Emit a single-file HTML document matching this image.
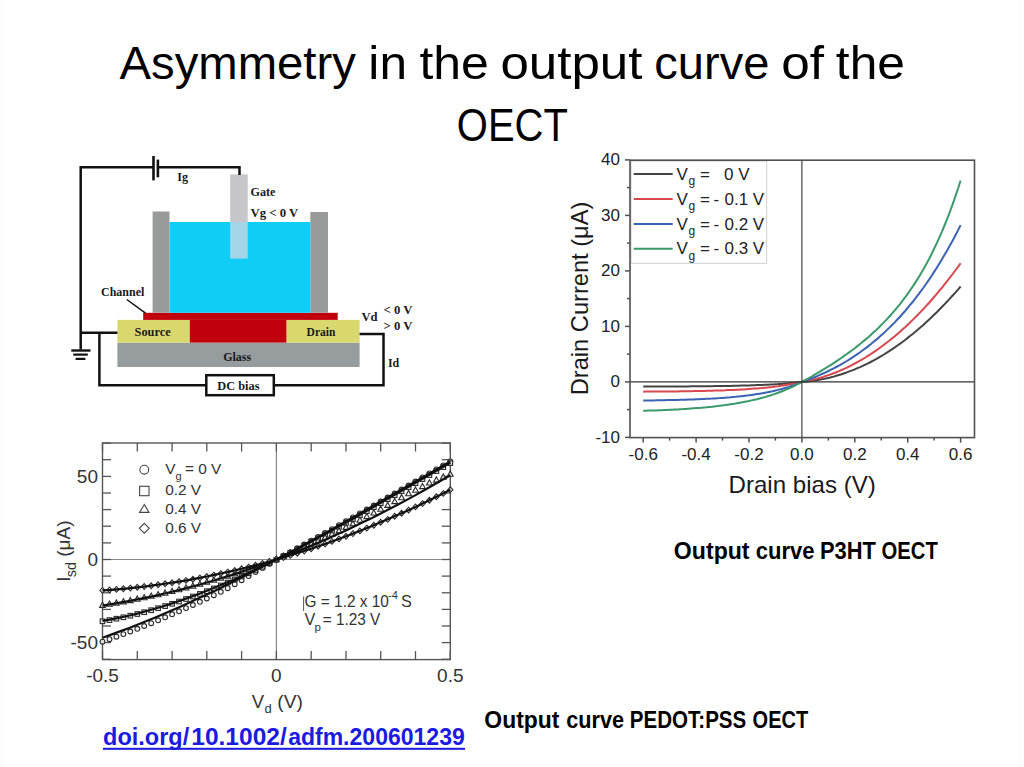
<!DOCTYPE html>
<html><head><meta charset="utf-8"><style>
html,body{margin:0;padding:0;background:#fff;}
body{width:1024px;height:767px;overflow:hidden;position:relative;}
svg{position:absolute;left:0;top:0;}
text{font-family:"Liberation Sans",sans-serif;}
</style></head><body>
<svg width="1024" height="767" viewBox="0 0 1024 767">
<text x="119.51" y="79.1" font-size="46.5" textLength="236.38" lengthAdjust="spacingAndGlyphs" fill="#000">Asymmetry</text>
<text x="368.38" y="79.1" font-size="46.5" textLength="38.59" lengthAdjust="spacingAndGlyphs" fill="#000">in</text>
<text x="419.44" y="79.1" font-size="46.5" textLength="69.37" lengthAdjust="spacingAndGlyphs" fill="#000">the</text>
<text x="500.45" y="79.1" font-size="46.5" textLength="142.02" lengthAdjust="spacingAndGlyphs" fill="#000">output</text>
<text x="654.30" y="79.1" font-size="46.5" textLength="115.09" lengthAdjust="spacingAndGlyphs" fill="#000">curve</text>
<text x="781.15" y="79.1" font-size="46.5" textLength="42.78" lengthAdjust="spacingAndGlyphs" fill="#000">of</text>
<text x="835.85" y="79.1" font-size="46.5" textLength="69.06" lengthAdjust="spacingAndGlyphs" fill="#000">the</text>
<text x="456.86" y="140.5" font-size="46.5" textLength="110.96" lengthAdjust="spacingAndGlyphs" fill="#000">OECT</text>
<rect x="117.4" y="342.6" width="242.2" height="24.4" fill="#979c9e"/>
<rect x="117.4" y="319.9" width="72.4" height="22.7" fill="#d9d86e"/>
<rect x="286.4" y="319.9" width="73.2" height="22.7" fill="#d9d86e"/>
<rect x="143.2" y="312.8" width="194.5" height="7.1" fill="#c0000c"/>
<rect x="189.8" y="319.9" width="96.6" height="22.7" fill="#c0000c"/>
<rect x="152.6" y="211.5" width="16.9" height="101.3" fill="#999a9a"/>
<rect x="310.3" y="212" width="17.7" height="100.8" fill="#999a9a"/>
<rect x="169.5" y="222" width="140.8" height="90.8" fill="#10cdf6"/>
<rect x="230.2" y="174.4" width="17.5" height="47.6" fill="#c6c6ca"/>
<rect x="230.2" y="222" width="17.5" height="36.6" fill="#a3d5e6"/>
<path d="M153.5,167.2H80.7V349.5" stroke="#111" stroke-width="2.5" fill="none"/>
<path d="M157.9,167.2H239.5V175" stroke="#111" stroke-width="2.5" fill="none"/>
<line x1="153.5" y1="156" x2="153.5" y2="180.4" stroke="#111" stroke-width="2.6"/>
<line x1="157.9" y1="159.6" x2="157.9" y2="177.3" stroke="#111" stroke-width="2.6"/>
<path d="M80.7,332.8H117.4" stroke="#111" stroke-width="2.5" fill="none"/>
<path d="M99.4,332.8V385.2H206" stroke="#111" stroke-width="2.5" fill="none"/>
<path d="M274.5,385.2H383.5V334H359.6" stroke="#111" stroke-width="2.5" fill="none"/>
<rect x="206.3" y="375.2" width="67.5" height="20" stroke="#111" stroke-width="2.5" fill="none"/>
<line x1="71.3" y1="350.5" x2="90.5" y2="350.5" stroke="#111" stroke-width="2.4"/>
<line x1="73.3" y1="354.6" x2="87.8" y2="354.6" stroke="#111" stroke-width="2.2"/>
<line x1="75.6" y1="358.9" x2="85.4" y2="358.9" stroke="#111" stroke-width="2.2"/>
<line x1="126.8" y1="299.5" x2="145.5" y2="313.2" stroke="#111" stroke-width="1.5"/>
<text x="177.2" y="181" style="font-family:&quot;Liberation Serif&quot;,serif;font-weight:bold" font-size="12.5" fill="#1a1a1a" textLength="10.8" lengthAdjust="spacingAndGlyphs">Ig</text>
<text x="250.6" y="195.7" style="font-family:&quot;Liberation Serif&quot;,serif;font-weight:bold" font-size="12.5" fill="#1a1a1a" textLength="24.9" lengthAdjust="spacingAndGlyphs">Gate</text>
<text x="250.6" y="217.2" style="font-family:&quot;Liberation Serif&quot;,serif;font-weight:bold" font-size="12.5" fill="#1a1a1a" textLength="47.7" lengthAdjust="spacingAndGlyphs">Vg &lt; 0 V</text>
<text x="101" y="296.4" style="font-family:&quot;Liberation Serif&quot;,serif;font-weight:bold" font-size="12.5" fill="#1a1a1a" textLength="43.3" lengthAdjust="spacingAndGlyphs">Channel</text>
<text x="134.6" y="336" style="font-family:&quot;Liberation Serif&quot;,serif;font-weight:bold" font-size="12.5" fill="#1a1a1a" textLength="36.0" lengthAdjust="spacingAndGlyphs">Source</text>
<text x="306.6" y="336.1" style="font-family:&quot;Liberation Serif&quot;,serif;font-weight:bold" font-size="12.5" fill="#1a1a1a" textLength="28.8" lengthAdjust="spacingAndGlyphs">Drain</text>
<text x="223.2" y="361.4" style="font-family:&quot;Liberation Serif&quot;,serif;font-weight:bold" font-size="12.5" fill="#1a1a1a" textLength="28.0" lengthAdjust="spacingAndGlyphs">Glass</text>
<text x="217.3" y="389.6" style="font-family:&quot;Liberation Serif&quot;,serif;font-weight:bold" font-size="12.5" fill="#1a1a1a" textLength="42.2" lengthAdjust="spacingAndGlyphs">DC bias</text>
<text x="361.5" y="320.8" style="font-family:&quot;Liberation Serif&quot;,serif;font-weight:bold" font-size="12.5" fill="#1a1a1a" textLength="16.1" lengthAdjust="spacingAndGlyphs">Vd</text>
<text x="383.5" y="313.7" style="font-family:&quot;Liberation Serif&quot;,serif;font-weight:bold" font-size="12.5" fill="#1a1a1a" textLength="29.0" lengthAdjust="spacingAndGlyphs">&lt; 0 V</text>
<text x="383.5" y="329.8" style="font-family:&quot;Liberation Serif&quot;,serif;font-weight:bold" font-size="12.5" fill="#1a1a1a" textLength="29.0" lengthAdjust="spacingAndGlyphs">&gt; 0 V</text>
<text x="387.9" y="366.9" style="font-family:&quot;Liberation Serif&quot;,serif;font-weight:bold" font-size="12.5" fill="#1a1a1a" textLength="11.3" lengthAdjust="spacingAndGlyphs">Id</text>
<rect x="631" y="161" width="135.7" height="102.3" fill="#fff" stroke="#cfcfcf" stroke-width="1"/>
<polyline points="643.2,386.5 645.8,386.5 648.5,386.5 651.1,386.5 653.8,386.5 656.4,386.5 659.1,386.5 661.7,386.5 664.4,386.5 667,386.5 669.6,386.5 672.3,386.4 674.9,386.4 677.6,386.4 680.2,386.4 682.9,386.4 685.5,386.4 688.2,386.4 690.8,386.3 693.5,386.3 696.1,386.3 698.7,386.3 701.4,386.3 704,386.2 706.7,386.2 709.3,386.2 712,386.2 714.6,386.1 717.3,386.1 719.9,386 722.5,386 725.2,386 727.8,385.9 730.5,385.9 733.1,385.8 735.8,385.8 738.4,385.7 741.1,385.6 743.7,385.6 746.4,385.5 749,385.4 751.6,385.3 754.3,385.2 756.9,385.1 759.6,385 762.2,384.9 764.9,384.8 767.5,384.7 770.2,384.5 772.8,384.4 775.4,384.2 778.1,384.1 780.7,383.9 783.4,383.7 786,383.5 788.7,383.3 791.3,383 794,382.8 796.6,382.5 799.3,382.2 801.9,381.9 804.5,381.7 807.2,381.5 809.8,381.2 812.5,380.8 815.1,380.5 817.8,380 820.4,379.6 823.1,379.1 825.7,378.5 828.4,377.9 831,377.3 833.6,376.6 836.3,375.8 838.9,375 841.6,374.2 844.2,373.3 846.9,372.4 849.5,371.4 852.2,370.4 854.8,369.3 857.4,368.2 860.1,367.1 862.7,365.9 865.4,364.6 868,363.3 870.7,362 873.3,360.6 876,359.1 878.6,357.6 881.2,356.1 883.9,354.5 886.5,352.8 889.2,351.1 891.8,349.4 894.5,347.6 897.1,345.8 899.8,343.9 902.4,342 905.1,340 907.7,337.9 910.3,335.8 913,333.7 915.6,331.5 918.3,329.3 920.9,327 923.6,324.7 926.2,322.3 928.9,319.8 931.5,317.3 934.1,314.8 936.8,312.2 939.4,309.5 942.1,306.8 944.7,304.1 947.4,301.3 950,298.4 952.7,295.5 955.3,292.6 958,289.6 960.6,286.5" fill="none" stroke="#444444" stroke-width="2"/>
<polyline points="643.2,391.7 645.8,391.6 648.5,391.6 651.1,391.6 653.8,391.6 656.4,391.6 659.1,391.5 661.7,391.5 664.4,391.5 667,391.5 669.6,391.4 672.3,391.4 674.9,391.4 677.6,391.4 680.2,391.3 682.9,391.3 685.5,391.2 688.2,391.2 690.8,391.2 693.5,391.1 696.1,391.1 698.7,391 701.4,391 704,390.9 706.7,390.8 709.3,390.8 712,390.7 714.6,390.6 717.3,390.5 719.9,390.4 722.5,390.4 725.2,390.3 727.8,390.1 730.5,390 733.1,389.9 735.8,389.8 738.4,389.7 741.1,389.5 743.7,389.4 746.4,389.2 749,389 751.6,388.8 754.3,388.6 756.9,388.4 759.6,388.2 762.2,388 764.9,387.7 767.5,387.5 770.2,387.2 772.8,386.9 775.4,386.5 778.1,386.2 780.7,385.8 783.4,385.4 786,385 788.7,384.6 791.3,384.1 794,383.6 796.6,383.1 799.3,382.5 801.9,381.9 804.5,381.4 807.2,380.9 809.8,380.4 812.5,379.8 815.1,379.1 817.8,378.4 820.4,377.7 823.1,376.9 825.7,376 828.4,375.1 831,374.2 833.6,373.2 836.3,372.2 838.9,371.1 841.6,370 844.2,368.8 846.9,367.6 849.5,366.3 852.2,364.9 854.8,363.5 857.4,362.1 860.1,360.6 862.7,359.1 865.4,357.5 868,355.8 870.7,354.1 873.3,352.4 876,350.6 878.6,348.7 881.2,346.8 883.9,344.9 886.5,342.8 889.2,340.8 891.8,338.6 894.5,336.5 897.1,334.2 899.8,331.9 902.4,329.6 905.1,327.2 907.7,324.7 910.3,322.2 913,319.6 915.6,317 918.3,314.3 920.9,311.6 923.6,308.8 926.2,305.9 928.9,303 931.5,300 934.1,297 936.8,293.9 939.4,290.7 942.1,287.5 944.7,284.2 947.4,280.9 950,277.4 952.7,274 955.3,270.5 958,266.9 960.6,263.2" fill="none" stroke="#d9484e" stroke-width="2"/>
<polyline points="643.2,400.5 645.8,400.5 648.5,400.5 651.1,400.4 653.8,400.4 656.4,400.3 659.1,400.3 661.7,400.3 664.4,400.2 667,400.1 669.6,400.1 672.3,400 674.9,400 677.6,399.9 680.2,399.8 682.9,399.8 685.5,399.7 688.2,399.6 690.8,399.5 693.5,399.4 696.1,399.3 698.7,399.2 701.4,399.1 704,399 706.7,398.8 709.3,398.7 712,398.6 714.6,398.4 717.3,398.2 719.9,398.1 722.5,397.9 725.2,397.7 727.8,397.5 730.5,397.3 733.1,397 735.8,396.8 738.4,396.5 741.1,396.2 743.7,395.9 746.4,395.6 749,395.3 751.6,394.9 754.3,394.5 756.9,394.1 759.6,393.7 762.2,393.3 764.9,392.8 767.5,392.3 770.2,391.7 772.8,391.2 775.4,390.5 778.1,389.9 780.7,389.2 783.4,388.5 786,387.7 788.7,386.9 791.3,386 794,385.1 796.6,384.1 799.3,383 801.9,381.9 804.5,381 807.2,380 809.8,379 812.5,378 815.1,377 817.8,375.9 820.4,374.7 823.1,373.5 825.7,372.3 828.4,371 831,369.7 833.6,368.4 836.3,367 838.9,365.6 841.6,364.1 844.2,362.5 846.9,361 849.5,359.3 852.2,357.6 854.8,355.9 857.4,354.1 860.1,352.3 862.7,350.3 865.4,348.4 868,346.4 870.7,344.3 873.3,342.1 876,339.9 878.6,337.7 881.2,335.3 883.9,332.9 886.5,330.4 889.2,327.9 891.8,325.3 894.5,322.6 897.1,319.8 899.8,317 902.4,314 905.1,311 907.7,307.9 910.3,304.7 913,301.5 915.6,298.1 918.3,294.7 920.9,291.1 923.6,287.5 926.2,283.7 928.9,279.9 931.5,276 934.1,271.9 936.8,267.8 939.4,263.5 942.1,259.1 944.7,254.6 947.4,250 950,245.3 952.7,240.4 955.3,235.5 958,230.4 960.6,225.1" fill="none" stroke="#3b63b3" stroke-width="2"/>
<polyline points="643.2,410.8 645.8,410.7 648.5,410.6 651.1,410.6 653.8,410.5 656.4,410.4 659.1,410.3 661.7,410.2 664.4,410 667,409.9 669.6,409.8 672.3,409.7 674.9,409.5 677.6,409.4 680.2,409.2 682.9,409.1 685.5,408.9 688.2,408.7 690.8,408.5 693.5,408.3 696.1,408.1 698.7,407.9 701.4,407.7 704,407.4 706.7,407.2 709.3,406.9 712,406.7 714.6,406.4 717.3,406.1 719.9,405.7 722.5,405.4 725.2,405.1 727.8,404.7 730.5,404.3 733.1,403.9 735.8,403.5 738.4,403 741.1,402.5 743.7,402 746.4,401.5 749,401 751.6,400.4 754.3,399.8 756.9,399.2 759.6,398.5 762.2,397.8 764.9,397.1 767.5,396.3 770.2,395.5 772.8,394.6 775.4,393.7 778.1,392.8 780.7,391.8 783.4,390.8 786,389.7 788.7,388.5 791.3,387.3 794,386.1 796.6,384.7 799.3,383.4 801.9,381.9 804.5,380.4 807.2,379 809.8,377.5 812.5,376 815.1,374.4 817.8,372.9 820.4,371.3 823.1,369.7 825.7,368.1 828.4,366.4 831,364.8 833.6,363.1 836.3,361.3 838.9,359.6 841.6,357.8 844.2,355.9 846.9,354 849.5,352.1 852.2,350.2 854.8,348.2 857.4,346.1 860.1,344 862.7,341.8 865.4,339.6 868,337.4 870.7,335 873.3,332.6 876,330.2 878.6,327.7 881.2,325 883.9,322.4 886.5,319.6 889.2,316.7 891.8,313.8 894.5,310.7 897.1,307.6 899.8,304.3 902.4,300.9 905.1,297.4 907.7,293.8 910.3,290 913,286.1 915.6,282.1 918.3,277.9 920.9,273.5 923.6,269 926.2,264.2 928.9,259.3 931.5,254.2 934.1,248.8 936.8,243.2 939.4,237.4 942.1,231.3 944.7,225 947.4,218.4 950,211.5 952.7,204.2 955.3,196.7 958,188.8 960.6,180.5" fill="none" stroke="#3a9a6a" stroke-width="2"/>
<line x1="801.9" y1="160.2" x2="801.9" y2="437.6" stroke="#333" stroke-width="1.1"/>
<line x1="630.0" y1="381.9" x2="974.5" y2="381.9" stroke="#333" stroke-width="1.1"/>
<line x1="633.7" y1="174" x2="672.7" y2="174" stroke="#444444" stroke-width="2"/>
<text x="676.5" y="179.7" font-size="17" fill="#222">V</text>
<text x="688.5" y="185.2" font-size="12" fill="#222">g</text>
<line x1="633.7" y1="199" x2="672.7" y2="199" stroke="#d9484e" stroke-width="2"/>
<text x="676.5" y="204.7" font-size="17" fill="#222">V</text>
<text x="688.5" y="210.2" font-size="12" fill="#222">g</text>
<line x1="633.7" y1="224" x2="672.7" y2="224" stroke="#3b63b3" stroke-width="2"/>
<text x="676.5" y="229.7" font-size="17" fill="#222">V</text>
<text x="688.5" y="235.2" font-size="12" fill="#222">g</text>
<line x1="633.7" y1="248.7" x2="672.7" y2="248.7" stroke="#3a9a6a" stroke-width="2"/>
<text x="676.5" y="254.39999999999998" font-size="17" fill="#222">V</text>
<text x="688.5" y="259.9" font-size="12" fill="#222">g</text>
<text x="700" y="179.7" font-size="17" fill="#222">=</text>
<text x="724" y="179.7" font-size="17" fill="#222">0 V</text>
<text x="700" y="204.7" font-size="17" fill="#222">=</text>
<text x="713.5" y="204.7" font-size="17" fill="#222">-</text>
<text x="724.5" y="204.7" font-size="17" fill="#222">0.1 V</text>
<text x="700" y="229.7" font-size="17" fill="#222">=</text>
<text x="713.5" y="229.7" font-size="17" fill="#222">-</text>
<text x="724.5" y="229.7" font-size="17" fill="#222">0.2 V</text>
<text x="700" y="254.39999999999998" font-size="17" fill="#222">=</text>
<text x="713.5" y="254.39999999999998" font-size="17" fill="#222">-</text>
<text x="724.5" y="254.39999999999998" font-size="17" fill="#222">0.3 V</text>
<rect x="630.0" y="160.2" width="344.5" height="277.40000000000003" fill="none" stroke="#505050" stroke-width="1.6"/>
<line x1="625.0" y1="437.4" x2="630.0" y2="437.4" stroke="#505050" stroke-width="1.5"/>
<text x="620" y="442.8" font-size="17" text-anchor="end" fill="#222">-10</text>
<line x1="627.0" y1="409.6" x2="630.0" y2="409.6" stroke="#505050" stroke-width="1.5"/>
<line x1="625.0" y1="381.9" x2="630.0" y2="381.9" stroke="#505050" stroke-width="1.5"/>
<text x="620" y="387.3" font-size="17" text-anchor="end" fill="#222">0</text>
<line x1="627.0" y1="354.1" x2="630.0" y2="354.1" stroke="#505050" stroke-width="1.5"/>
<line x1="625.0" y1="326.4" x2="630.0" y2="326.4" stroke="#505050" stroke-width="1.5"/>
<text x="620" y="331.8" font-size="17" text-anchor="end" fill="#222">10</text>
<line x1="627.0" y1="298.6" x2="630.0" y2="298.6" stroke="#505050" stroke-width="1.5"/>
<line x1="625.0" y1="270.9" x2="630.0" y2="270.9" stroke="#505050" stroke-width="1.5"/>
<text x="620" y="276.3" font-size="17" text-anchor="end" fill="#222">20</text>
<line x1="627.0" y1="243.1" x2="630.0" y2="243.1" stroke="#505050" stroke-width="1.5"/>
<line x1="625.0" y1="215.4" x2="630.0" y2="215.4" stroke="#505050" stroke-width="1.5"/>
<text x="620" y="220.8" font-size="17" text-anchor="end" fill="#222">30</text>
<line x1="627.0" y1="187.6" x2="630.0" y2="187.6" stroke="#505050" stroke-width="1.5"/>
<line x1="625.0" y1="159.9" x2="630.0" y2="159.9" stroke="#505050" stroke-width="1.5"/>
<text x="620" y="165.3" font-size="17" text-anchor="end" fill="#222">40</text>
<line x1="643.2" y1="437.6" x2="643.2" y2="442.6" stroke="#505050" stroke-width="1.5"/>
<text x="643.2" y="460.4" font-size="17" text-anchor="middle" fill="#222">-0.6</text>
<line x1="669.6" y1="437.6" x2="669.6" y2="440.6" stroke="#505050" stroke-width="1.5"/>
<line x1="696.1" y1="437.6" x2="696.1" y2="442.6" stroke="#505050" stroke-width="1.5"/>
<text x="696.1" y="460.4" font-size="17" text-anchor="middle" fill="#222">-0.4</text>
<line x1="722.5" y1="437.6" x2="722.5" y2="440.6" stroke="#505050" stroke-width="1.5"/>
<line x1="749" y1="437.6" x2="749" y2="442.6" stroke="#505050" stroke-width="1.5"/>
<text x="749" y="460.4" font-size="17" text-anchor="middle" fill="#222">-0.2</text>
<line x1="775.4" y1="437.6" x2="775.4" y2="440.6" stroke="#505050" stroke-width="1.5"/>
<line x1="801.9" y1="437.6" x2="801.9" y2="442.6" stroke="#505050" stroke-width="1.5"/>
<text x="801.9" y="460.4" font-size="17" text-anchor="middle" fill="#222">0.0</text>
<line x1="828.4" y1="437.6" x2="828.4" y2="440.6" stroke="#505050" stroke-width="1.5"/>
<line x1="854.8" y1="437.6" x2="854.8" y2="442.6" stroke="#505050" stroke-width="1.5"/>
<text x="854.8" y="460.4" font-size="17" text-anchor="middle" fill="#222">0.2</text>
<line x1="881.2" y1="437.6" x2="881.2" y2="440.6" stroke="#505050" stroke-width="1.5"/>
<line x1="907.7" y1="437.6" x2="907.7" y2="442.6" stroke="#505050" stroke-width="1.5"/>
<text x="907.7" y="460.4" font-size="17" text-anchor="middle" fill="#222">0.4</text>
<line x1="934.1" y1="437.6" x2="934.1" y2="440.6" stroke="#505050" stroke-width="1.5"/>
<line x1="960.6" y1="437.6" x2="960.6" y2="442.6" stroke="#505050" stroke-width="1.5"/>
<text x="960.6" y="460.4" font-size="17" text-anchor="middle" fill="#222">0.6</text>
<text x="728.5" y="493.4" font-size="23.2" textLength="147.3" lengthAdjust="spacingAndGlyphs" fill="#1a1a1a">Drain bias (V)</text>
<text transform="translate(588.4,395.2) rotate(-90)" x="0" y="0" font-size="24" textLength="193.5" lengthAdjust="spacingAndGlyphs" fill="#1a1a1a">Drain Current (&#956;A)</text>
<line x1="276.4" y1="443.0" x2="276.4" y2="659.6" stroke="#888" stroke-width="1.2"/>
<line x1="102.5" y1="559.5" x2="450.3" y2="559.5" stroke="#888" stroke-width="1.2"/>
<rect x="102.5" y="443.0" width="347.8" height="216.6" fill="none" stroke="#555" stroke-width="1.4"/>
<line x1="102.5" y1="659.3" x2="111.0" y2="659.3" stroke="#555" stroke-width="1.3"/>
<line x1="441.8" y1="659.3" x2="450.3" y2="659.3" stroke="#555" stroke-width="1.3"/>
<line x1="102.5" y1="642.6" x2="111.0" y2="642.6" stroke="#555" stroke-width="1.3"/>
<line x1="441.8" y1="642.6" x2="450.3" y2="642.6" stroke="#555" stroke-width="1.3"/>
<line x1="102.5" y1="626" x2="111.0" y2="626" stroke="#555" stroke-width="1.3"/>
<line x1="441.8" y1="626" x2="450.3" y2="626" stroke="#555" stroke-width="1.3"/>
<line x1="102.5" y1="609.4" x2="111.0" y2="609.4" stroke="#555" stroke-width="1.3"/>
<line x1="441.8" y1="609.4" x2="450.3" y2="609.4" stroke="#555" stroke-width="1.3"/>
<line x1="102.5" y1="592.8" x2="111.0" y2="592.8" stroke="#555" stroke-width="1.3"/>
<line x1="441.8" y1="592.8" x2="450.3" y2="592.8" stroke="#555" stroke-width="1.3"/>
<line x1="102.5" y1="576.1" x2="111.0" y2="576.1" stroke="#555" stroke-width="1.3"/>
<line x1="441.8" y1="576.1" x2="450.3" y2="576.1" stroke="#555" stroke-width="1.3"/>
<line x1="102.5" y1="559.5" x2="111.0" y2="559.5" stroke="#555" stroke-width="1.3"/>
<line x1="441.8" y1="559.5" x2="450.3" y2="559.5" stroke="#555" stroke-width="1.3"/>
<line x1="102.5" y1="542.9" x2="111.0" y2="542.9" stroke="#555" stroke-width="1.3"/>
<line x1="441.8" y1="542.9" x2="450.3" y2="542.9" stroke="#555" stroke-width="1.3"/>
<line x1="102.5" y1="526.2" x2="111.0" y2="526.2" stroke="#555" stroke-width="1.3"/>
<line x1="441.8" y1="526.2" x2="450.3" y2="526.2" stroke="#555" stroke-width="1.3"/>
<line x1="102.5" y1="509.6" x2="111.0" y2="509.6" stroke="#555" stroke-width="1.3"/>
<line x1="441.8" y1="509.6" x2="450.3" y2="509.6" stroke="#555" stroke-width="1.3"/>
<line x1="102.5" y1="493" x2="111.0" y2="493" stroke="#555" stroke-width="1.3"/>
<line x1="441.8" y1="493" x2="450.3" y2="493" stroke="#555" stroke-width="1.3"/>
<line x1="102.5" y1="476.4" x2="111.0" y2="476.4" stroke="#555" stroke-width="1.3"/>
<line x1="441.8" y1="476.4" x2="450.3" y2="476.4" stroke="#555" stroke-width="1.3"/>
<line x1="102.5" y1="459.7" x2="111.0" y2="459.7" stroke="#555" stroke-width="1.3"/>
<line x1="441.8" y1="459.7" x2="450.3" y2="459.7" stroke="#555" stroke-width="1.3"/>
<line x1="102.5" y1="443.1" x2="111.0" y2="443.1" stroke="#555" stroke-width="1.3"/>
<line x1="441.8" y1="443.1" x2="450.3" y2="443.1" stroke="#555" stroke-width="1.3"/>
<line x1="102.5" y1="443.0" x2="102.5" y2="451.5" stroke="#555" stroke-width="1.3"/>
<line x1="102.5" y1="651.1" x2="102.5" y2="659.6" stroke="#555" stroke-width="1.3"/>
<line x1="137.3" y1="443.0" x2="137.3" y2="451.5" stroke="#555" stroke-width="1.3"/>
<line x1="137.3" y1="651.1" x2="137.3" y2="659.6" stroke="#555" stroke-width="1.3"/>
<line x1="172.1" y1="443.0" x2="172.1" y2="451.5" stroke="#555" stroke-width="1.3"/>
<line x1="172.1" y1="651.1" x2="172.1" y2="659.6" stroke="#555" stroke-width="1.3"/>
<line x1="206.8" y1="443.0" x2="206.8" y2="451.5" stroke="#555" stroke-width="1.3"/>
<line x1="206.8" y1="651.1" x2="206.8" y2="659.6" stroke="#555" stroke-width="1.3"/>
<line x1="241.6" y1="443.0" x2="241.6" y2="451.5" stroke="#555" stroke-width="1.3"/>
<line x1="241.6" y1="651.1" x2="241.6" y2="659.6" stroke="#555" stroke-width="1.3"/>
<line x1="276.4" y1="443.0" x2="276.4" y2="451.5" stroke="#555" stroke-width="1.3"/>
<line x1="276.4" y1="651.1" x2="276.4" y2="659.6" stroke="#555" stroke-width="1.3"/>
<line x1="311.2" y1="443.0" x2="311.2" y2="451.5" stroke="#555" stroke-width="1.3"/>
<line x1="311.2" y1="651.1" x2="311.2" y2="659.6" stroke="#555" stroke-width="1.3"/>
<line x1="346" y1="443.0" x2="346" y2="451.5" stroke="#555" stroke-width="1.3"/>
<line x1="346" y1="651.1" x2="346" y2="659.6" stroke="#555" stroke-width="1.3"/>
<line x1="380.7" y1="443.0" x2="380.7" y2="451.5" stroke="#555" stroke-width="1.3"/>
<line x1="380.7" y1="651.1" x2="380.7" y2="659.6" stroke="#555" stroke-width="1.3"/>
<line x1="415.5" y1="443.0" x2="415.5" y2="451.5" stroke="#555" stroke-width="1.3"/>
<line x1="415.5" y1="651.1" x2="415.5" y2="659.6" stroke="#555" stroke-width="1.3"/>
<line x1="450.3" y1="443.0" x2="450.3" y2="451.5" stroke="#555" stroke-width="1.3"/>
<line x1="450.3" y1="651.1" x2="450.3" y2="659.6" stroke="#555" stroke-width="1.3"/>
<g fill="#f2f2f2" fill-opacity="0.8" stroke="#2a2a2a" stroke-width="1.1"><circle cx="102.5" cy="641.7" r="2.4"/><circle cx="109.5" cy="639.2" r="2.4"/><circle cx="116.4" cy="636.7" r="2.4"/><circle cx="123.4" cy="634.1" r="2.4"/><circle cx="130.3" cy="631.5" r="2.4"/><circle cx="137.3" cy="628.8" r="2.4"/><circle cx="144.2" cy="626" r="2.4"/><circle cx="151.2" cy="623.2" r="2.4"/><circle cx="158.1" cy="620.3" r="2.4"/><circle cx="165.1" cy="617.3" r="2.4"/><circle cx="172.1" cy="614.3" r="2.4"/><circle cx="179" cy="611.3" r="2.4"/><circle cx="186" cy="608.1" r="2.4"/><circle cx="192.9" cy="605" r="2.4"/><circle cx="199.9" cy="601.8" r="2.4"/><circle cx="206.8" cy="598.5" r="2.4"/><circle cx="213.8" cy="595.2" r="2.4"/><circle cx="220.8" cy="591.8" r="2.4"/><circle cx="227.7" cy="588.2" r="2.4"/><circle cx="234.7" cy="584.2" r="2.4"/><circle cx="241.6" cy="580.2" r="2.4"/><circle cx="248.6" cy="576.1" r="2.4"/><circle cx="255.5" cy="572" r="2.4"/><circle cx="262.5" cy="567.9" r="2.4"/><circle cx="269.4" cy="563.7" r="2.4"/><circle cx="276.4" cy="559.5" r="2.4"/><circle cx="283.4" cy="555.8" r="2.4"/><circle cx="290.3" cy="552.1" r="2.4"/><circle cx="297.3" cy="548.3" r="2.4"/><circle cx="304.2" cy="544.5" r="2.4"/><circle cx="311.2" cy="540.7" r="2.4"/><circle cx="318.1" cy="536.9" r="2.4"/><circle cx="325.1" cy="533" r="2.4"/><circle cx="332" cy="529.1" r="2.4"/><circle cx="339" cy="525.2" r="2.4"/><circle cx="346" cy="521.3" r="2.4"/><circle cx="352.9" cy="517.4" r="2.4"/><circle cx="359.9" cy="513.4" r="2.4"/><circle cx="366.8" cy="509.5" r="2.4"/><circle cx="373.8" cy="505.5" r="2.4"/><circle cx="380.7" cy="501.5" r="2.4"/><circle cx="387.7" cy="497.5" r="2.4"/><circle cx="394.7" cy="493.5" r="2.4"/><circle cx="401.6" cy="489.5" r="2.4"/><circle cx="408.6" cy="485.5" r="2.4"/><circle cx="415.5" cy="481.5" r="2.4"/><circle cx="422.5" cy="477.4" r="2.4"/><circle cx="429.4" cy="473.4" r="2.4"/><circle cx="436.4" cy="469.4" r="2.4"/><circle cx="443.3" cy="465.4" r="2.4"/><circle cx="450.3" cy="461.4" r="2.4"/><rect x="100.2" y="619" width="4.6" height="4.6"/><rect x="107.2" y="617.8" width="4.6" height="4.6"/><rect x="114.1" y="616.4" width="4.6" height="4.6"/><rect x="121.1" y="615" width="4.6" height="4.6"/><rect x="128" y="613.4" width="4.6" height="4.6"/><rect x="135" y="611.7" width="4.6" height="4.6"/><rect x="141.9" y="609.9" width="4.6" height="4.6"/><rect x="148.9" y="607.9" width="4.6" height="4.6"/><rect x="155.8" y="605.9" width="4.6" height="4.6"/><rect x="162.8" y="603.8" width="4.6" height="4.6"/><rect x="169.8" y="601.5" width="4.6" height="4.6"/><rect x="176.7" y="599.2" width="4.6" height="4.6"/><rect x="183.7" y="596.7" width="4.6" height="4.6"/><rect x="190.6" y="594.2" width="4.6" height="4.6"/><rect x="197.6" y="591.6" width="4.6" height="4.6"/><rect x="204.5" y="588.9" width="4.6" height="4.6"/><rect x="211.5" y="586.1" width="4.6" height="4.6"/><rect x="218.5" y="583.2" width="4.6" height="4.6"/><rect x="225.4" y="580.3" width="4.6" height="4.6"/><rect x="232.4" y="577.2" width="4.6" height="4.6"/><rect x="239.3" y="574.1" width="4.6" height="4.6"/><rect x="246.3" y="571" width="4.6" height="4.6"/><rect x="253.2" y="567.7" width="4.6" height="4.6"/><rect x="260.2" y="564.4" width="4.6" height="4.6"/><rect x="267.1" y="561" width="4.6" height="4.6"/><rect x="274.1" y="557.6" width="4.6" height="4.6"/><rect x="281.1" y="554.1" width="4.6" height="4.6"/><rect x="288" y="550.6" width="4.6" height="4.6"/><rect x="295" y="547" width="4.6" height="4.6"/><rect x="301.9" y="543.3" width="4.6" height="4.6"/><rect x="308.9" y="539.7" width="4.6" height="4.6"/><rect x="315.8" y="535.9" width="4.6" height="4.6"/><rect x="322.8" y="532.2" width="4.6" height="4.6"/><rect x="329.7" y="528.4" width="4.6" height="4.6"/><rect x="336.7" y="524.5" width="4.6" height="4.6"/><rect x="343.7" y="520.6" width="4.6" height="4.6"/><rect x="350.6" y="516.8" width="4.6" height="4.6"/><rect x="357.6" y="512.8" width="4.6" height="4.6"/><rect x="364.5" y="508.9" width="4.6" height="4.6"/><rect x="371.5" y="504.9" width="4.6" height="4.6"/><rect x="378.4" y="500.9" width="4.6" height="4.6"/><rect x="385.4" y="496.9" width="4.6" height="4.6"/><rect x="392.4" y="492.9" width="4.6" height="4.6"/><rect x="399.3" y="488.9" width="4.6" height="4.6"/><rect x="406.3" y="484.9" width="4.6" height="4.6"/><rect x="413.2" y="480.9" width="4.6" height="4.6"/><rect x="420.2" y="476.8" width="4.6" height="4.6"/><rect x="427.1" y="472.8" width="4.6" height="4.6"/><rect x="434.1" y="468.8" width="4.6" height="4.6"/><rect x="441" y="464.8" width="4.6" height="4.6"/><rect x="448" y="460.8" width="4.6" height="4.6"/><path d="M102.5,602.2L105.4,607.4L99.6,607.4Z"/><path d="M109.5,601.1L112.4,606.3L106.6,606.3Z"/><path d="M116.4,599.9L119.3,605.1L113.5,605.1Z"/><path d="M123.4,598.7L126.3,603.9L120.5,603.9Z"/><path d="M130.3,597.4L133.2,602.6L127.4,602.6Z"/><path d="M137.3,596L140.2,601.2L134.4,601.2Z"/><path d="M144.2,594.6L147.1,599.8L141.3,599.8Z"/><path d="M151.2,593.1L154.1,598.3L148.3,598.3Z"/><path d="M158.1,591.6L161,596.8L155.2,596.8Z"/><path d="M165.1,590L168,595.2L162.2,595.2Z"/><path d="M172.1,588.3L175,593.5L169.2,593.5Z"/><path d="M179,586.6L181.9,591.8L176.1,591.8Z"/><path d="M186,584.8L188.9,590L183.1,590Z"/><path d="M192.9,583L195.8,588.2L190,588.2Z"/><path d="M199.9,581.1L202.8,586.3L197,586.3Z"/><path d="M206.8,579.1L209.7,584.3L203.9,584.3Z"/><path d="M213.8,577.1L216.7,582.3L210.9,582.3Z"/><path d="M220.8,575L223.7,580.2L217.9,580.2Z"/><path d="M227.7,572.9L230.6,578.1L224.8,578.1Z"/><path d="M234.7,570.6L237.6,575.8L231.8,575.8Z"/><path d="M241.6,568.4L244.5,573.6L238.7,573.6Z"/><path d="M248.6,566L251.5,571.2L245.7,571.2Z"/><path d="M255.5,563.6L258.4,568.8L252.6,568.8Z"/><path d="M262.5,561.2L265.4,566.4L259.6,566.4Z"/><path d="M269.4,558.7L272.3,563.9L266.5,563.9Z"/><path d="M276.4,556.1L279.3,561.3L273.5,561.3Z"/><path d="M283.4,553.2L286.3,558.4L280.5,558.4Z"/><path d="M290.3,550.2L293.2,555.4L287.4,555.4Z"/><path d="M297.3,547.2L300.2,552.4L294.4,552.4Z"/><path d="M304.2,544.1L307.1,549.3L301.3,549.3Z"/><path d="M311.2,541L314.1,546.2L308.3,546.2Z"/><path d="M318.1,537.8L321,543L315.2,543Z"/><path d="M325.1,534.5L328,539.7L322.2,539.7Z"/><path d="M332,531.1L334.9,536.3L329.1,536.3Z"/><path d="M339,527.7L341.9,532.9L336.1,532.9Z"/><path d="M346,524.2L348.9,529.4L343.1,529.4Z"/><path d="M352.9,520.7L355.8,525.9L350,525.9Z"/><path d="M359.9,517.1L362.8,522.3L357,522.3Z"/><path d="M366.8,513.4L369.7,518.6L363.9,518.6Z"/><path d="M373.8,509.8L376.7,515L370.9,515Z"/><path d="M380.7,506L383.6,511.2L377.8,511.2Z"/><path d="M387.7,502.2L390.6,507.4L384.8,507.4Z"/><path d="M394.7,498.4L397.6,503.6L391.8,503.6Z"/><path d="M401.6,494.5L404.5,499.7L398.7,499.7Z"/><path d="M408.6,490.5L411.5,495.7L405.7,495.7Z"/><path d="M415.5,487L418.4,492.2L412.6,492.2Z"/><path d="M422.5,483.4L425.4,488.6L419.6,488.6Z"/><path d="M429.4,479.8L432.3,485L426.5,485Z"/><path d="M436.4,476.9L439.3,482.1L433.5,482.1Z"/><path d="M443.3,474L446.2,479.2L440.4,479.2Z"/><path d="M450.3,471L453.2,476.2L447.4,476.2Z"/><path d="M102.5,587.5L105.1,590.4L102.5,593.3L99.9,590.4Z"/><path d="M109.5,587L112.1,589.9L109.5,592.8L106.9,589.9Z"/><path d="M116.4,586.5L119,589.4L116.4,592.3L113.8,589.4Z"/><path d="M123.4,585.9L126,588.8L123.4,591.7L120.8,588.8Z"/><path d="M130.3,585.2L132.9,588.1L130.3,591L127.7,588.1Z"/><path d="M137.3,584.4L139.9,587.3L137.3,590.2L134.7,587.3Z"/><path d="M144.2,583.6L146.8,586.5L144.2,589.4L141.6,586.5Z"/><path d="M151.2,582.8L153.8,585.7L151.2,588.6L148.6,585.7Z"/><path d="M158.1,581.8L160.7,584.7L158.1,587.6L155.5,584.7Z"/><path d="M165.1,580.9L167.7,583.8L165.1,586.7L162.5,583.8Z"/><path d="M172.1,579.8L174.7,582.7L172.1,585.6L169.5,582.7Z"/><path d="M179,578.7L181.6,581.6L179,584.5L176.4,581.6Z"/><path d="M186,577.5L188.6,580.4L186,583.3L183.4,580.4Z"/><path d="M192.9,576.3L195.5,579.2L192.9,582.1L190.3,579.2Z"/><path d="M199.9,575L202.5,577.9L199.9,580.8L197.3,577.9Z"/><path d="M206.8,573.6L209.4,576.5L206.8,579.4L204.2,576.5Z"/><path d="M213.8,572.2L216.4,575.1L213.8,578L211.2,575.1Z"/><path d="M220.8,570.7L223.4,573.6L220.8,576.5L218.2,573.6Z"/><path d="M227.7,569.2L230.3,572.1L227.7,575L225.1,572.1Z"/><path d="M234.7,567.6L237.3,570.5L234.7,573.4L232.1,570.5Z"/><path d="M241.6,565.9L244.2,568.8L241.6,571.7L239,568.8Z"/><path d="M248.6,564.2L251.2,567.1L248.6,570L246,567.1Z"/><path d="M255.5,562.4L258.1,565.3L255.5,568.2L252.9,565.3Z"/><path d="M262.5,560.5L265.1,563.4L262.5,566.3L259.9,563.4Z"/><path d="M269.4,558.6L272,561.5L269.4,564.4L266.8,561.5Z"/><path d="M276.4,556.6L279,559.5L276.4,562.4L273.8,559.5Z"/><path d="M283.4,554.6L286,557.5L283.4,560.4L280.8,557.5Z"/><path d="M290.3,552.5L292.9,555.4L290.3,558.3L287.7,555.4Z"/><path d="M297.3,550.3L299.9,553.2L297.3,556.1L294.7,553.2Z"/><path d="M304.2,548.1L306.8,551L304.2,553.9L301.6,551Z"/><path d="M311.2,545.8L313.8,548.7L311.2,551.6L308.6,548.7Z"/><path d="M318.1,543.4L320.7,546.3L318.1,549.2L315.5,546.3Z"/><path d="M325.1,541L327.7,543.9L325.1,546.8L322.5,543.9Z"/><path d="M332,538.5L334.6,541.4L332,544.3L329.4,541.4Z"/><path d="M339,536L341.6,538.9L339,541.8L336.4,538.9Z"/><path d="M346,533.4L348.6,536.3L346,539.2L343.4,536.3Z"/><path d="M352.9,530.7L355.5,533.6L352.9,536.5L350.3,533.6Z"/><path d="M359.9,528L362.5,530.9L359.9,533.8L357.3,530.9Z"/><path d="M366.8,525.2L369.4,528.1L366.8,531L364.2,528.1Z"/><path d="M373.8,522.4L376.4,525.3L373.8,528.2L371.2,525.3Z"/><path d="M380.7,519.4L383.3,522.3L380.7,525.2L378.1,522.3Z"/><path d="M387.7,516.5L390.3,519.4L387.7,522.3L385.1,519.4Z"/><path d="M394.7,513.4L397.3,516.3L394.7,519.2L392.1,516.3Z"/><path d="M401.6,510.3L404.2,513.2L401.6,516.1L399,513.2Z"/><path d="M408.6,507.2L411.2,510.1L408.6,513L406,510.1Z"/><path d="M415.5,504L418.1,506.9L415.5,509.8L412.9,506.9Z"/><path d="M422.5,500.7L425.1,503.6L422.5,506.5L419.9,503.6Z"/><path d="M429.4,497.3L432,500.2L429.4,503.1L426.8,500.2Z"/><path d="M436.4,493.9L439,496.8L436.4,499.7L433.8,496.8Z"/><path d="M443.3,490.5L445.9,493.4L443.3,496.3L440.7,493.4Z"/><path d="M450.3,486.9L452.9,489.8L450.3,492.7L447.7,489.8Z"/></g>
<polyline points="102.5,637.7 111.2,634.6 119.9,631.4 128.6,628.2 137.3,624.8 146,621.3 154.7,617.7 163.4,614.1 172.1,610.3 180.8,606.5 189.4,602.6 198.1,598.6 206.8,594.5 215.5,590.4 224.2,586.1 232.9,581.8 241.6,577.5 250.3,573.1 259,568.6 267.7,564.1 276.4,559.5 285.1,554.9 293.8,550.2 302.5,545.5 311.2,540.7 319.9,535.9 328.6,531.1 337.3,526.2 346,521.3 354.7,516.4 363.3,511.4 372,506.5 380.7,501.5 389.4,496.5 398.1,491.5 406.8,486.5 415.5,481.5 424.2,476.4 432.9,471.4 441.6,466.4 450.3,461.4" fill="none" stroke="#111" stroke-width="2.2"/>
<polyline points="102.5,620.9 111.2,619.3 119.9,617.6 128.6,615.7 137.3,613.6 146,611.3 154.7,608.8 163.4,606.2 172.1,603.4 180.8,600.5 189.4,597.4 198.1,594.2 206.8,590.8 215.5,587.3 224.2,583.6 232.9,579.9 241.6,576 250.3,572 259,568 267.7,563.8 276.4,559.5 285.1,555.1 293.8,550.7 302.5,546.2 311.2,541.6 319.9,536.9 328.6,532.2 337.3,527.4 346,522.5 354.7,517.7 363.3,512.8 372,507.8 380.7,502.8 389.4,497.8 398.1,492.8 406.8,487.8 415.5,482.8 424.2,477.7 432.9,472.7 441.6,467.7 450.3,462.7" fill="none" stroke="#111" stroke-width="2.2"/>
<polyline points="102.5,605.6 111.2,604.2 119.9,602.7 128.6,601.1 137.3,599.4 146,597.6 154.7,595.8 163.4,593.8 172.1,591.7 180.8,589.6 189.4,587.3 198.1,585 206.8,582.5 215.5,580 224.2,577.3 232.9,574.6 241.6,571.8 250.3,568.8 259,565.8 267.7,562.7 276.4,559.5 285.1,556.2 293.8,552.8 302.5,549.3 311.2,545.7 319.9,542 328.6,538.2 337.3,534.3 346,530.4 354.7,526.3 363.3,522.1 372,517.9 380.7,513.5 389.4,509 398.1,504.5 406.8,499.9 415.5,495.1 424.2,490.3 432.9,485.3 441.6,480.3 450.3,475.2" fill="none" stroke="#111" stroke-width="2.2"/>
<polyline points="102.5,590.4 111.2,589.8 119.9,589.1 128.6,588.3 137.3,587.3 146,586.3 154.7,585.2 163.4,584 172.1,582.7 180.8,581.3 189.4,579.8 198.1,578.2 206.8,576.5 215.5,574.7 224.2,572.8 232.9,570.9 241.6,568.8 250.3,566.6 259,564.3 267.7,562 276.4,559.5 285.1,556.9 293.8,554.3 302.5,551.5 311.2,548.7 319.9,545.7 328.6,542.7 337.3,539.5 346,536.3 354.7,532.9 363.3,529.5 372,526 380.7,522.3 389.4,518.6 398.1,514.8 406.8,510.9 415.5,506.9 424.2,502.7 432.9,498.5 441.6,494.2 450.3,489.8" fill="none" stroke="#111" stroke-width="2.2"/>
<text x="98" y="483.1" font-size="19" text-anchor="end" fill="#333">50</text>
<text x="98" y="566.2" font-size="19" text-anchor="end" fill="#333">0</text>
<text x="98" y="649.4" font-size="19" text-anchor="end" fill="#333">-50</text>
<text x="102.5" y="682.3" font-size="19" text-anchor="middle" fill="#333">-0.5</text>
<text x="276.4" y="682.3" font-size="19" text-anchor="middle" fill="#333">0</text>
<text x="450.3" y="682.3" font-size="19" text-anchor="middle" fill="#333">0.5</text>
<text x="251.7" y="707.5" font-size="18.5" fill="#333">V</text>
<text x="264.5" y="713" font-size="13" fill="#333">d</text>
<text x="277.3" y="707.5" font-size="19.2" fill="#333">(V)</text>
<g transform="translate(69.6,581.8) rotate(-90)" fill="#333"><text x="0" y="0" font-size="19">I</text><text x="4.6" y="6.2" font-size="14.5">sd</text><text x="25" y="0" font-size="19">(&#956;A)</text></g>
<circle cx="144.3" cy="469.7" r="4.4" fill="none" stroke="#444" stroke-width="1.1"/>
<rect x="139.6" y="486.3" width="9.4" height="9.4" fill="none" stroke="#444" stroke-width="1.1"/>
<path d="M144.3,504.5L149,512.4L139.6,512.4Z" fill="none" stroke="#444" stroke-width="1.1"/>
<path d="M144.3,523.4L149.2,528.3L144.3,533.2L139.4,528.3Z" fill="none" stroke="#444" stroke-width="1.1"/>
<text x="165.2" y="474.4" font-size="15.4" fill="#333">V</text>
<text x="175.5" y="479.5" font-size="11" fill="#333">g</text>
<text x="185" y="474.4" font-size="15.4" fill="#333">= 0 V</text>
<text x="165.2" y="495.3" font-size="15.4" fill="#333">0.2 V</text>
<text x="165.2" y="514.2" font-size="15.4" fill="#333">0.4 V</text>
<text x="165.2" y="532.7" font-size="15.4" fill="#333">0.6 V</text>
<line x1="303.6" y1="596.5" x2="303.6" y2="611" stroke="#555" stroke-width="1"/>
<text x="304.6" y="607" font-size="16" textLength="84.3" lengthAdjust="spacingAndGlyphs" fill="#333">G = 1.2 x 10</text>
<text x="388" y="599.3" font-size="11" fill="#333">-4</text>
<text x="401" y="607" font-size="16.2" fill="#333">S</text>
<text x="304.4" y="625.4" font-size="16.2" fill="#333">V</text>
<text x="314.5" y="631" font-size="11.5" fill="#333">p</text>
<text x="322.8" y="625.4" font-size="16" textLength="57.5" lengthAdjust="spacingAndGlyphs" fill="#333">= 1.23 V</text>
<text x="673.85" y="558.7" font-size="23.3" textLength="75.73" lengthAdjust="spacingAndGlyphs" font-weight="bold" fill="#000">Output</text>
<text x="755.84" y="558.7" font-size="23.3" textLength="58.71" lengthAdjust="spacingAndGlyphs" font-weight="bold" fill="#000">curve</text>
<text x="819.93" y="558.7" font-size="23.3" textLength="56.00" lengthAdjust="spacingAndGlyphs" font-weight="bold" fill="#000">P3HT</text>
<text x="881.57" y="558.7" font-size="23.3" textLength="56.25" lengthAdjust="spacingAndGlyphs" font-weight="bold" fill="#000">OECT</text>
<text x="484.36" y="728.3" font-size="23.3" textLength="75.02" lengthAdjust="spacingAndGlyphs" font-weight="bold" fill="#000">Output</text>
<text x="566.15" y="728.3" font-size="23.3" textLength="57.89" lengthAdjust="spacingAndGlyphs" font-weight="bold" fill="#000">curve</text>
<text x="629.85" y="728.3" font-size="23.3" textLength="116.43" lengthAdjust="spacingAndGlyphs" font-weight="bold" fill="#000">PEDOT:PSS</text>
<text x="752.58" y="728.3" font-size="23.3" textLength="55.53" lengthAdjust="spacingAndGlyphs" font-weight="bold" fill="#000">OECT</text>
<text x="103.14" y="744.9" font-size="23.3" textLength="86.09" lengthAdjust="spacingAndGlyphs" font-weight="bold" fill="#1a1ae0">doi.org/</text>
<text x="191.25" y="744.9" font-size="23.3" textLength="95.48" lengthAdjust="spacingAndGlyphs" font-weight="bold" fill="#1a1ae0">10.1002/</text>
<text x="288.13" y="744.9" font-size="23.3" textLength="176.63" lengthAdjust="spacingAndGlyphs" font-weight="bold" fill="#1a1ae0">adfm.200601239</text>
<rect x="1" y="0" width="1" height="767" fill="#f9f9f9"/>
<rect x="0" y="764" width="1024" height="1.5" fill="#fafafa"/>
<rect x="1019" y="0" width="1" height="767" fill="#f9f9f9"/>
<rect x="103" y="747.8" width="362" height="2" fill="#1a1ae0"/>
</svg>
</body></html>
